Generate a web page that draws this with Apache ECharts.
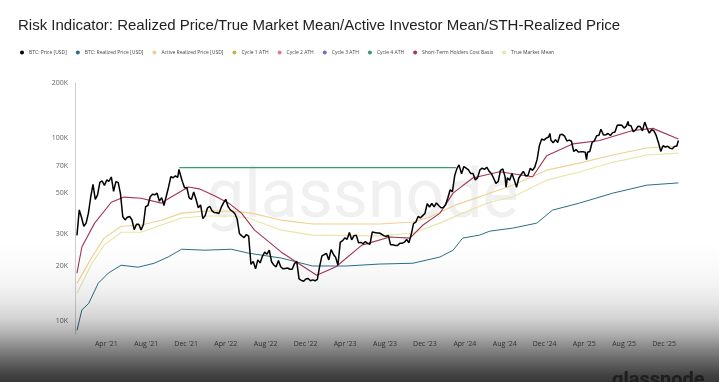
<!DOCTYPE html>
<html>
<head>
<meta charset="utf-8">
<script src="https://cdn.jsdelivr.net/npm/echarts@6/dist/echarts.min.js"></script>
<style>
html,body{margin:0;padding:0;background:#fff;}
#chart{width:719px;height:382px;}
</style>
</head>
<body>
<div id="chart"></div>
<script>
// ---- Data (values in USD) ----
const btcDates = [
'2021-01-01','2021-01-08','2021-01-15','2021-01-22','2021-01-29','2021-02-05','2021-02-12','2021-02-19','2021-02-26','2021-03-05','2021-03-12','2021-03-19','2021-03-26','2021-04-02','2021-04-09','2021-04-16','2021-04-23','2021-04-30','2021-05-07','2021-05-14','2021-05-21','2021-05-28','2021-06-04','2021-06-11','2021-06-18','2021-06-25','2021-07-02','2021-07-09','2021-07-16','2021-07-23','2021-07-30','2021-08-06','2021-08-13','2021-08-20','2021-08-27','2021-09-03','2021-09-10','2021-09-17','2021-09-24','2021-10-01','2021-10-08','2021-10-15','2021-10-22','2021-10-29','2021-11-05','2021-11-09','2021-11-12','2021-11-19','2021-11-26','2021-12-03','2021-12-10','2021-12-17','2021-12-24','2021-12-31',
'2022-01-07','2022-01-14','2022-01-21','2022-01-28','2022-02-04','2022-02-11','2022-02-18','2022-02-25','2022-03-04','2022-03-11','2022-03-18','2022-03-25','2022-04-01','2022-04-08','2022-04-15','2022-04-22','2022-04-29','2022-05-06','2022-05-13','2022-05-20','2022-05-27','2022-06-03','2022-06-10','2022-06-17','2022-06-24','2022-07-01','2022-07-08','2022-07-15','2022-07-22','2022-07-29','2022-08-05','2022-08-12','2022-08-19','2022-08-26','2022-09-02','2022-09-09','2022-09-16','2022-09-23','2022-09-30','2022-10-07','2022-10-14','2022-10-21','2022-10-28','2022-11-04','2022-11-11','2022-11-18','2022-11-25','2022-12-02','2022-12-09','2022-12-16','2022-12-23','2022-12-30',
'2023-01-06','2023-01-13','2023-01-20','2023-01-27','2023-02-03','2023-02-10','2023-02-17','2023-02-24','2023-03-03','2023-03-10','2023-03-17','2023-03-24','2023-03-31','2023-04-07','2023-04-14','2023-04-21','2023-04-28','2023-05-05','2023-05-12','2023-05-19','2023-05-26','2023-06-02','2023-06-09','2023-06-16','2023-06-23','2023-06-30','2023-07-07','2023-07-14','2023-07-21','2023-07-28','2023-08-04','2023-08-11','2023-08-18','2023-08-25','2023-09-01','2023-09-08','2023-09-15','2023-09-22','2023-09-29','2023-10-06','2023-10-13','2023-10-20','2023-10-27','2023-11-03','2023-11-10','2023-11-17','2023-11-24','2023-12-01','2023-12-08','2023-12-15','2023-12-22','2023-12-29',
'2024-01-05','2024-01-12','2024-01-19','2024-01-26','2024-02-02','2024-02-09','2024-02-16','2024-02-23','2024-03-01','2024-03-08','2024-03-14','2024-03-22','2024-03-29','2024-04-05','2024-04-12','2024-04-19','2024-04-26','2024-05-03','2024-05-10','2024-05-17','2024-05-24','2024-05-31','2024-06-07','2024-06-14','2024-06-21','2024-06-28','2024-07-05','2024-07-12','2024-07-19','2024-07-26','2024-08-02','2024-08-05','2024-08-09','2024-08-16','2024-08-23','2024-08-30','2024-09-06','2024-09-13','2024-09-20','2024-09-27','2024-10-04','2024-10-11','2024-10-18','2024-10-25','2024-11-01','2024-11-08','2024-11-15','2024-11-22','2024-11-29','2024-12-06','2024-12-13','2024-12-17','2024-12-20','2024-12-27',
'2025-01-03','2025-01-10','2025-01-17','2025-01-24','2025-01-31','2025-02-07','2025-02-14','2025-02-21','2025-02-28','2025-03-07','2025-03-14','2025-03-21','2025-03-28','2025-04-04','2025-04-08','2025-04-11','2025-04-18','2025-04-25','2025-05-02','2025-05-09','2025-05-16','2025-05-22','2025-05-30','2025-06-06','2025-06-13','2025-06-20','2025-06-27','2025-07-04','2025-07-11','2025-07-14','2025-07-18','2025-07-25','2025-08-01','2025-08-08','2025-08-13','2025-08-15','2025-08-22','2025-08-29','2025-09-05','2025-09-12','2025-09-19','2025-09-26','2025-10-03','2025-10-06','2025-10-10','2025-10-17','2025-10-24','2025-10-31','2025-11-07','2025-11-14','2025-11-21','2025-11-28','2025-12-05','2025-12-12','2025-12-19','2025-12-26',
'2026-01-02','2026-01-09','2026-01-14'
];
const btcValues = [
29400,40500,36800,33000,34300,38900,47500,55900,46300,48900,57300,58300,55100,59000,58100,61300,51200,57800,57300,49700,37300,35700,36900,37300,35800,31600,33800,33800,31500,33600,42200,42800,47800,49300,49000,50000,45200,47300,42800,48100,53900,61500,60700,62200,61000,67500,64200,58100,53600,53700,47100,46200,50800,46300,
41600,43100,36300,37700,41500,42400,40000,39200,39100,38700,41800,44300,46300,42300,40500,39700,38600,36000,30000,29200,28600,29700,29100,20400,21200,19300,21600,20800,22600,23800,23200,24400,21100,20200,19800,21400,19800,19300,19400,19500,19200,19200,20600,21200,17000,16700,16500,17000,17100,16600,16800,16600,
16900,19900,22700,23100,23400,21600,24600,23200,22300,20200,26900,27500,28500,28000,30500,27800,29300,29500,26800,26900,26500,27200,26500,26300,30700,30500,30300,30300,29900,29300,29000,29400,26100,26100,25900,25900,26600,26600,27000,27900,26800,29700,34100,34700,37300,36600,37700,38700,43800,42000,43900,42100,
44200,42800,41600,41800,43200,47100,52100,51000,62400,68300,71400,63800,69900,68500,67100,64000,64100,59100,60800,67000,68500,67500,69300,66000,64100,60300,56600,57900,66700,67900,61400,54000,60600,58900,64100,59100,53900,60500,63200,65800,62100,62400,68400,66600,69500,76500,91100,98900,97400,99900,101400,106100,97700,94200,
98100,94700,104400,104800,102400,96500,97500,96100,84400,86700,84000,84100,84300,83800,76300,83700,84500,94600,96500,103000,103500,111700,104000,104300,105900,103300,107100,108000,117500,120000,117900,117600,113300,116600,123300,117400,116900,108400,110700,116000,115700,109600,122300,124700,113200,106500,111000,109600,103400,94400,84600,90900,89400,90300,88100,87300,
89900,90500,96900
];
const realizedPrice = [
['2021-01-01',8900],['2021-01-16',11500],['2021-02-06',12500],['2021-03-07',16100],['2021-04-07',18300],['2021-05-16',20200],['2021-07-07',19700],['2021-08-25',20700],['2021-10-07',22400],['2021-11-17',24700],['2022-01-28',24400],['2022-04-18',24700],['2022-06-10',23500],['2022-09-18',22100],['2022-12-22',20000],['2023-04-04',20000],['2023-07-16',20500],['2023-10-25',20700],['2024-01-16',22400],['2024-02-25',24400],['2024-03-25',28400],['2024-05-16',29500],['2024-06-16',31000],['2024-08-25',32200],['2024-11-07',34300],['2024-12-25',40400],['2025-03-17',44100],['2025-06-27',50000],['2025-10-09',55300],['2026-01-14',56900]
];
const activeRealizedPrice = [
['2021-01-01',16100],['2021-02-16',22400],['2021-03-25',28400],['2021-05-16',33000],['2021-07-16',33500],['2021-09-16',35600],['2021-11-17',38900],['2022-01-28',39900],['2022-04-18',39900],['2022-06-19',38900],['2022-09-18',35600],['2022-12-22',33900],['2023-07-16',33900],['2023-10-25',34800],['2023-12-16',37000],['2024-03-07',43300],['2024-06-16',50000],['2024-08-25',55300],['2024-12-07',66800],['2025-03-17',73000],['2025-06-27',80800],['2025-10-09',88300],['2026-01-14',90500]
];
const trueMarketMean = [
['2021-01-01',14200],['2021-02-16',20700],['2021-03-25',26000],['2021-05-16',30600],['2021-07-16',30600],['2021-09-16',33500],['2021-11-17',36600],['2022-01-28',37500],['2022-04-18',37500],['2022-06-10',36600],['2022-09-18',31400],['2022-12-22',29500],['2023-07-16',29200],['2023-10-25',30300],['2024-01-16',34300],['2024-03-25',38900],['2024-06-16',44600],['2024-08-25',47600],['2024-12-07',58900],['2025-03-17',65300],['2025-06-27',73700],['2025-10-09',80800],['2026-01-14',82800]
];
const sthCostBasis = [
['2021-01-01',18300],['2021-01-16',25400],['2021-02-24',34300],['2021-04-16',44600],['2021-05-25',47600],['2021-07-16',46900],['2021-09-16',44100],['2021-10-16',47600],['2021-12-08',54000],['2022-01-10',52800],['2022-02-27',48200],['2022-04-10',44100],['2022-05-19',38900],['2022-06-28',31400],['2022-09-18',23800],['2023-01-04',17800],['2023-03-04',19800],['2023-05-22',26000],['2023-08-16',28800],['2023-10-16',28400],['2023-11-25',33500],['2024-01-16',38900],['2024-02-25',50000],['2024-04-25',60500],['2024-07-16',65500],['2024-10-25',61500],['2024-12-07',80000],['2025-02-26',93000],['2025-05-18',97000],['2025-08-27',110000],['2025-10-28',113000],['2026-01-14',99000]
];
const cycle1Ath = [];
const cycle2Ath = [];
const cycle3Ath = [];
const cycle4Ath = [['2021-11-10',69000],['2024-03-05',69000]];
const yTicks = [10000,20000,30000,50000,70000,100000,200000];
const xTicks = ['2021-04-01','2021-08-01','2021-12-01','2022-04-01','2022-08-01','2022-12-01','2023-04-01','2023-08-01','2023-12-01','2024-04-01','2024-08-01','2024-12-01','2025-04-01','2025-08-01','2025-12-01'];
const monthNames = ['Jan','Feb','Mar','Apr','May','Jun','Jul','Aug','Sep','Oct','Nov','Dec'];

const names = {
  btc:'BTC: Price [USD]', rp:'BTC: Realized Price [USD]', arp:'Active Realized Price [USD]',
  c1:'Cycle 1 ATH', c2:'Cycle 2 ATH', c3:'Cycle 3 ATH', c4:'Cycle 4 ATH',
  sth:'Short-Term Holders Cost Basis', tmm:'True Market Mean'
};
const colors = {
  btc:'#000000', rp:'#2c6f88', arp:'#f0cf92', c1:'#c9b24e', c2:'#e07c8e', c3:'#6f6fca', c4:'#3c9a6c',
  sth:'#a3345a', tmm:'#e8e6a6'
};

function ts(s){ return Date.parse(s + 'T00:00:00Z'); }
function pairs(arr){ return arr.map(p => [ts(p[0]), p[1]]); }

const chart = echarts.init(document.getElementById('chart'), null, {renderer:'canvas'});
const btcData = btcDates.map((d,i)=>[ts(d), btcValues[i]]);
const xTickTs = xTicks.map(ts);

function line(key, data, width, z){
  return {name:names[key], type:'line', data:data, showSymbol:false, symbol:'none',
    lineStyle:{color:colors[key], width:width}, itemStyle:{color:colors[key]}, z:z, silent:true, animation:false};
}

const option = {
  animation:false,
  backgroundColor:'#ffffff',
  title:{text:'Risk Indicator: Realized Price/True Market Mean/Active Investor Mean/STH-Realized Price',
    left:13, top:13, textStyle:{fontSize:15, fontWeight:'normal', color:'#222', fontFamily:'Liberation Sans'}},
  legend:{left:15, top:45, icon:'circle', itemWidth:4, itemHeight:4, itemGap:9,
    textStyle:{fontSize:5, color:'#444', fontFamily:'Open Sans'},
    data:[names.btc,names.rp,names.arp,names.c1,names.c2,names.c3,names.c4,names.sth,names.tmm]},
  grid:{left:75, right:36, top:83, bottom:48, containLabel:false},
  xAxis:{type:'value', min:ts('2020-12-26'), max:ts('2026-01-28'), scale:true,
    axisLine:{show:false}, axisTick:{show:false}, splitLine:{show:false},
    axisLabel:{customValues:xTickTs, fontSize:7, color:'#555', margin:6, fontFamily:'Open Sans',
      formatter:function(v){const d=new Date(v); return monthNames[d.getUTCMonth()]+" '"+String(d.getUTCFullYear()).slice(2);}}},
  yAxis:{type:'log', logBase:10, min:8500, max:200000,
    axisLine:{show:true, lineStyle:{color:'#cfcfcf', width:1}}, axisTick:{show:false}, splitLine:{show:false},
    axisLabel:{customValues:yTicks, fontSize:7, color:'#666', margin:7, fontFamily:'Open Sans',
      formatter:function(v){return Math.round(v/1000)+'K';}}},
  graphic:[
    {type:'text', z:0, silent:true, style:{x:206, y:200, text:'glassnode', font:'68px Roboto', fill:'#f0f0f0', textVerticalAlign:'middle'}},
    {type:'rect', z:100, silent:true, shape:{x:0, y:240, width:719, height:142},
      style:{fill:new echarts.graphic.LinearGradient(0,0,0,1,[
        {offset:0, color:'rgba(0,0,0,0)'},
        {offset:0.14, color:'rgba(0,0,0,0.01)'},
        {offset:0.29, color:'rgba(0,0,0,0.04)'},
        {offset:0.43, color:'rgba(0,0,0,0.09)'},
        {offset:0.56, color:'rgba(0,0,0,0.18)'},
        {offset:0.67, color:'rgba(0,0,0,0.32)'},
        {offset:0.74, color:'rgba(0,0,0,0.44)'},
        {offset:0.85, color:'rgba(0,0,0,0.60)'},
        {offset:0.95, color:'rgba(0,0,0,0.74)'},
        {offset:1, color:'rgba(0,0,0,0.78)'}
      ])}},
    {type:'text', z:101, silent:true, style:{x:612, y:391, text:'glassnode', font:'bold 20px Roboto', fill:'#1e1e1e', textVerticalAlign:'bottom'}}
  ],
  series:[
    line('btc', btcData, 1.5, 10),
    line('rp', pairs(realizedPrice), 1, 5),
    line('arp', pairs(activeRealizedPrice), 1.1, 4),
    line('c1', pairs(cycle1Ath), 1, 3),
    line('c2', pairs(cycle2Ath), 1, 3),
    line('c3', pairs(cycle3Ath), 1, 3),
    line('c4', pairs(cycle4Ath), 1.2, 6),
    line('sth', pairs(sthCostBasis), 1.1, 7),
    line('tmm', pairs(trueMarketMean), 1.1, 4)
  ]
};
chart.setOption(option);
</script>
</body>
</html>
